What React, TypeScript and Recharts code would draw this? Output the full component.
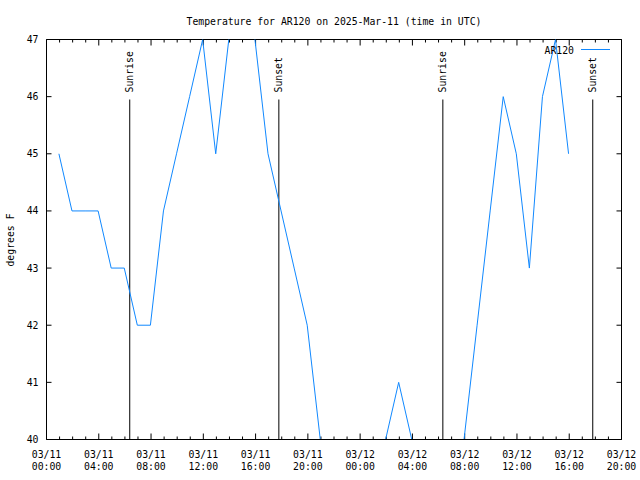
import React from 'react';
import { LineChart, Line, XAxis, YAxis, ReferenceLine, Legend } from 'recharts';

// Observation times, hours since 2025-03-11 00:00 UTC
const obsHours = [
  0.95, 1.95, 2.95, 3.95, 4.95, 5.95, 6.95, 7.95, 8.95, 9.95,
  10.95, 11.95, 12.95, 13.95, 14.95, 15.95, 16.95, 17.95, 18.95, 19.95,
  20.95, 21.95, 22.95, 23.95, 24.95, 25.95, 26.95, 27.95, 28.95, 29.95,
  30.95, 31.95, 32.95, 33.95, 34.95, 35.95, 36.95, 37.95, 38.95, 39.95,
];
// Temperature, degrees F (values outside 40..47 are clipped in the reference)
const tempsF = [
  45, 44, 44, 44, 43, 43, 42, 42, 44, 45,
  46, 47, 45, 47, 48, 47, 45, 44, 43, 42,
  40, 39, 38, 38, 39, 40, 41, 40, 39, 38,
  39, 40, 42, 44, 46, 45, 43, 46, 47, 45,
];

const sunEventHours = [6.37, 17.78, 30.33, 41.8];
const sunEventLabels = ['Sunrise', 'Sunset', 'Sunrise', 'Sunset'];

const xTickHours = [0, 4, 8, 12, 16, 20, 24, 28, 32, 36, 40, 44];
const xTickDates = ['03/11', '03/11', '03/11', '03/11', '03/11', '03/11', '03/12', '03/12', '03/12', '03/12', '03/12', '03/12'];
const xTickTimes = ['00:00', '04:00', '08:00', '12:00', '16:00', '20:00', '00:00', '04:00', '08:00', '12:00', '16:00', '20:00'];
const xMinorHours = Array.from({ length: 45 }, (_, i) => i);
const yTicks = [40, 41, 42, 43, 44, 45, 46, 47];

const seriesName = 'AR120';
const titleText = 'Temperature for AR120 on 2025-Mar-11 (time in UTC)';
const yLabelText = 'degrees F';

const data = obsHours.map((h, i) => ({ h, t: tempsF[i] }));

const FONT = '"DejaVu Sans Mono", "Liberation Mono", monospace';
const FS = 9.8;
const LINE_COLOR = '#1088ff';
const X_DOMAIN: [number, number] = [0, 44];
const Y_DOMAIN: [number, number] = [40, 47];
const PLOT_W = 575; // px
const PLOT_H = 400; // px
const pxToHours = (px: number) => (px * (X_DOMAIN[1] - X_DOMAIN[0])) / PLOT_W;
const pxToDeg = (px: number) => (px * (Y_DOMAIN[1] - Y_DOMAIN[0])) / PLOT_H;

const XTick = (props: any) => {
  const { x, y, payload } = props;
  const i = xTickHours.indexOf(payload.value);
  return (
    <text x={x} y={y} textAnchor="middle" fontFamily={FONT} fontSize={FS} fill="#000">
      <tspan x={x} dy={10}>{xTickDates[i]}</tspan>
      <tspan x={x} dy={12}>{xTickTimes[i]}</tspan>
    </text>
  );
};

const sunLabel = (text: string) => (props: any) => {
  const vb = props.viewBox || {};
  const x = vb.x1 != null ? vb.x1 : vb.x;
  const y = vb.y1 != null ? Math.min(vb.y1, vb.y2) : vb.y;
  const bx = x + 3.5;
  const by = y - 7;
  return (
    <text
      x={bx}
      y={by}
      transform={`rotate(-90, ${bx}, ${by})`}
      textAnchor="start"
      fontFamily={FONT}
      fontSize={FS}
      fill="#000"
    >
      {text}
    </text>
  );
};

const renderLegend = () => (
  <svg width={120} height={20} style={{ display: 'block' }}>
    <text x={74} y={12.5} textAnchor="end" fontFamily={FONT} fontSize={FS} fill="#000">
      {seriesName}
    </text>
    <line x1={81} x2={110} y1={8.5} y2={8.5} stroke={LINE_COLOR} strokeWidth={1} />
  </svg>
);

// tick mark segments (inward, gnuplot style)
type Seg = { key: string; seg: [{ x: number; y: number }, { x: number; y: number }] };
const tickSegs: Seg[] = [];
xMinorHours.forEach((h) => {
  const len = xTickHours.includes(h) ? pxToDeg(6) : pxToDeg(3);
  tickSegs.push({ key: `b${h}`, seg: [{ x: h, y: Y_DOMAIN[0] }, { x: h, y: Y_DOMAIN[0] + len }] });
  tickSegs.push({ key: `t${h}`, seg: [{ x: h, y: Y_DOMAIN[1] - len }, { x: h, y: Y_DOMAIN[1] }] });
});
yTicks.forEach((v) => {
  const len = pxToHours(5);
  tickSegs.push({ key: `l${v}`, seg: [{ x: X_DOMAIN[0], y: v }, { x: X_DOMAIN[0] + len, y: v }] });
  tickSegs.push({ key: `r${v}`, seg: [{ x: X_DOMAIN[1] - len, y: v }, { x: X_DOMAIN[1], y: v }] });
});

export default function App() {
  return (
    <div style={{ position: 'absolute', left: 0, top: 0, width: 640, height: 480, background: '#fff' }}>
      <LineChart
        width={640}
        height={480}
        data={data}
        margin={{ top: 39.5, right: 18.5, bottom: 0.5, left: 6.5 }}
      >
        <text x={334} y={24.5} textAnchor="middle" fontFamily={FONT} fontSize={FS} fill="#000">
          {titleText}
        </text>
        <text
          x={14}
          y={240}
          transform="rotate(-90, 14, 240)"
          textAnchor="middle"
          fontFamily={FONT}
          fontSize={FS}
          fill="#000"
        >
          {yLabelText}
        </text>

        <XAxis
          xAxisId="main"
          dataKey="h"
          type="number"
          domain={X_DOMAIN}
          ticks={xTickHours}
          interval={0}
          height={40}
          tickLine={false}
          tickSize={6}
          tickMargin={2}
          axisLine={{ stroke: '#000' }}
          tick={<XTick />}
          allowDataOverflow
        />
        <YAxis
          yAxisId="main"
          type="number"
          domain={Y_DOMAIN}
          ticks={yTicks}
          interval={0}
          width={40}
          tickLine={false}
          tickSize={6}
          tickMargin={2}
          axisLine={{ stroke: '#000' }}
          tick={{ fontFamily: FONT, fontSize: FS, fill: '#000' }}
          allowDataOverflow
        />

        {/* top and right borders */}
        <ReferenceLine xAxisId="main" yAxisId="main" y={Y_DOMAIN[1]} stroke="#000" strokeWidth={1} ifOverflow="visible" />
        <ReferenceLine xAxisId="main" yAxisId="main" x={X_DOMAIN[1]} stroke="#000" strokeWidth={1} ifOverflow="visible" />
        {tickSegs.map((t) => (
          <ReferenceLine
            key={t.key}
            xAxisId="main"
            yAxisId="main"
            segment={t.seg}
            stroke="#000"
            strokeWidth={1}
            ifOverflow="visible"
          />
        ))}

        {sunEventHours.map((h, i) => (
          <ReferenceLine
            key={i}
            xAxisId="main"
            yAxisId="main"
            segment={[{ x: h, y: 40 }, { x: h, y: 45.95 }]}
            stroke="#000"
            strokeWidth={1}
            label={sunLabel(sunEventLabels[i])}
            ifOverflow="visible"
          />
        ))}

        <Line
          xAxisId="main"
          yAxisId="main"
          type="linear"
          dataKey="t"
          name={seriesName}
          stroke={LINE_COLOR}
          strokeWidth={1}
          dot={false}
          activeDot={false}
          isAnimationActive={false}
        />

        <Legend
          layout="horizontal"
          verticalAlign="middle"
          align="center"
          content={renderLegend}
          wrapperStyle={{ position: 'absolute', left: 500, top: 41, width: 120, height: 20 }}
        />
      </LineChart>
    </div>
  );
}
